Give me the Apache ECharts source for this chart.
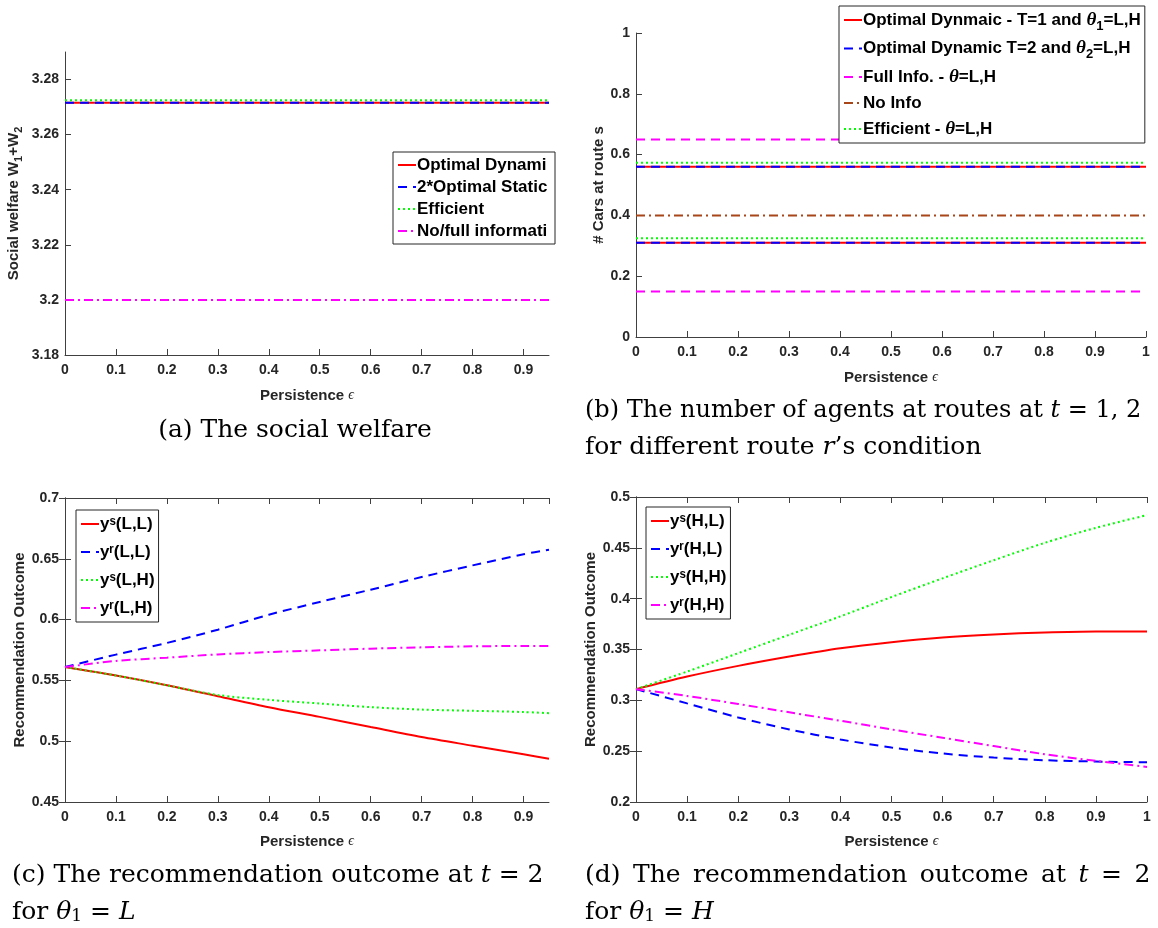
<!DOCTYPE html>
<html><head><meta charset="utf-8">
<script src="https://cdn.jsdelivr.net/npm/echarts@6/dist/echarts.min.js"></script>
<style>html,body{margin:0;padding:0;background:#fff}#c{width:1158px;height:928px}</style>
</head><body><div id="c"></div>
<script>
// ---------- data ----------
// (a) social welfare, constant over persistence
const epsA = [0, 0.95];
const welfareOptDyn = [3.2716, 3.2716];
const welfareOptStatic2 = [3.2716, 3.2716];
const welfareEfficient = [3.2725, 3.2725];
const welfareNoFull = [3.2, 3.2];
// (b) number of cars at route s (two levels each: L and H)
const epsB = [0, 1];
const carsOptT1L = [0.56, 0.56], carsOptT1H = [0.31, 0.31];
const carsOptT2L = [0.56, 0.56], carsOptT2H = [0.31, 0.31];
const carsFullL = [0.65, 0.65], carsFullH = [0.15, 0.15];
const carsNoInfo = [0.4, 0.4];
const carsEffL = [0.573, 0.573], carsEffH = [0.325, 0.325];
// (c) theta1 = L
const epsC = [0, 0.1, 0.2, 0.3, 0.4, 0.5, 0.6, 0.7, 0.8, 0.9, 0.95];
const ysLL = [0.561, 0.554, 0.546, 0.537, 0.528, 0.520, 0.5117, 0.5035, 0.4963, 0.4892, 0.4856];
const yrLL = [0.561, 0.5712, 0.5808, 0.5917, 0.604, 0.6145, 0.6246, 0.635, 0.6446, 0.6537, 0.6575];
const ysLH = [0.561, 0.554, 0.546, 0.538, 0.534, 0.531, 0.528, 0.526, 0.525, 0.524, 0.523];
const yrLH = [0.561, 0.566, 0.5687, 0.5714, 0.5733, 0.5747, 0.5761, 0.5772, 0.578, 0.5783, 0.5783];
// (d) theta1 = H
const epsD = [0, 0.1, 0.2, 0.3, 0.4, 0.5, 0.6, 0.7, 0.8, 0.9, 1.0];
const ysHL = [0.311, 0.3234, 0.3339, 0.3431, 0.3513, 0.3572, 0.3618, 0.3648, 0.3668, 0.3678, 0.3678];
const yrHL = [0.311, 0.297, 0.2832, 0.2714, 0.2615, 0.2536, 0.2477, 0.2437, 0.2411, 0.2398, 0.2391];
const ysHH = [0.311, 0.3283, 0.3464, 0.3645, 0.3826, 0.4016, 0.420, 0.4378, 0.4549, 0.4697, 0.4822];
const yrHH = [0.311, 0.3043, 0.2964, 0.2882, 0.2799, 0.2714, 0.2632, 0.255, 0.247, 0.2405, 0.2345];

// ---------- styles ----------
const TXT = '#262626', AX = '#404040';
const SANS = 'Liberation Sans, Arial, sans-serif';
const SERIF = 'DejaVu Serif, serif';
const RED = '#ff0000', BLUE = '#0000ff', GREEN = '#00ff00', MAG = '#ff00ff', BROWN = '#a8461a';
const solid = 'solid', dashed = [9, 6], dotted = [2, 3], dashdot = [9, 4, 2, 4];

const zip = (xs, ys) => xs.map((x, i) => [x, ys[i]]);
function line(name, x, y, color, type, gi, smooth) {
  return { name, type: 'line', xAxisIndex: gi, yAxisIndex: gi, data: zip(x, y),
    symbol: 'none', smooth: smooth ? 0.3 : false, animation: false,
    lineStyle: { color, width: 2, type }, itemStyle: { color } };
}
const epsName = 'Persistence {e|ϵ}';
const nameRich = {
  e: { fontFamily: 'Liberation Serif, serif', fontStyle: 'italic', fontSize: 14, color: TXT, fontWeight: 'normal' },
  sb: { fontFamily: SANS, fontWeight: 'bold', fontSize: 11, color: TXT, padding: [9, 0, 0, 0] }
};
const nameStyle = (extra) => Object.assign({ fontFamily: SANS, fontWeight: 'bold', fontSize: 15, color: TXT, rich: nameRich }, extra || {});
function xAx(gi, max, extra) {
  return Object.assign({ type: 'value', gridIndex: gi, min: 0, max, interval: 0.1,
    name: epsName, nameLocation: 'middle', nameGap: 33,
    nameTextStyle: nameStyle(),
    axisLine: { show: true, lineStyle: { color: AX, width: 1 } },
    axisTick: { show: true, inside: true, length: 6, lineStyle: { color: AX } },
    axisLabel: { fontFamily: SANS, fontWeight: 'bold', fontSize: 14, color: TXT, margin: 8, showMaxLabel: max === 1 },
    splitLine: { show: false } }, extra || {});
}
function yAx(gi, min, max, interval, name, gap, extra) {
  return Object.assign({ type: 'value', gridIndex: gi, min, max, interval,
    name, nameLocation: 'middle', nameGap: gap,
    nameTextStyle: nameStyle(),
    axisLine: { show: true, lineStyle: { color: AX, width: 1 } },
    axisTick: { show: true, inside: true, length: 6, lineStyle: { color: AX } },
    axisLabel: { fontFamily: SANS, fontWeight: 'bold', fontSize: 14, color: TXT, margin: 6 },
    splitLine: { show: false } }, extra || {});
}
function boxX(gi, max) {
  return { type: 'value', gridIndex: gi, position: 'top', min: 0, max, interval: 0.1,
    axisLine: { show: true, lineStyle: { color: AX } },
    axisTick: { show: true, inside: true, length: 6, lineStyle: { color: AX } },
    axisLabel: { show: false }, splitLine: { show: false } };
}
function boxY(gi, min, max, interval) {
  return { type: 'value', gridIndex: gi, position: 'right', min, max, interval,
    axisLine: { show: true, lineStyle: { color: AX } },
    axisTick: { show: true, inside: true, length: 6, lineStyle: { color: AX } },
    axisLabel: { show: false }, splitLine: { show: false } };
}
function legendBox(names, pos, fs, gap, lh, extraText) {
  return Object.assign({ orient: 'vertical', data: names,
    itemWidth: 18, itemHeight: 12, itemGap: gap,
    itemStyle: { opacity: 0 },
    backgroundColor: '#fff', borderColor: '#262626', borderWidth: 1, borderRadius: 0,
    padding: [4, 4, 4, 4], selectedMode: false,
    textStyle: Object.assign({ fontFamily: SANS, fontWeight: 'bold', fontSize: fs, color: '#000', lineHeight: lh, padding: [0, 0, 0, -4] }, extraText || {})
  }, pos);
}

const chart = echarts.init(document.getElementById('c'), null, { renderer: 'canvas' });
const thetaRich = {
  n: { fontFamily: SANS, fontWeight: 'bold', fontSize: 17, color: '#000' },
  th: { fontFamily: 'Liberation Serif, serif', fontStyle: 'italic', fontSize: 19, color: '#000' },
  sb: { fontFamily: SANS, fontWeight: 'bold', fontSize: 13, color: '#000', padding: [12, 0, 0, 0] }
};
const bNames = ['Optimal Dynmaic - T=1 and θ1=L,H', 'Optimal Dynamic T=2 and θ2=L,H', 'Full Info. - θ=L,H', 'No Info', 'Efficient - θ=L,H'];
function bFmt(name) {
  const m = name.match(/^(.*?)θ(\d?)(=L,H)$/);
  if (!m) return '{n|' + name + '}';
  return '{n|' + m[1] + '}{th|θ}' + (m[2] ? '{sb|' + m[2] + '}' : '') + '{n|' + m[3] + '}';
}

const option = {
  animation: false,
  backgroundColor: '#fff',
  grid: [
    { left: 65, top: 52, width: 484, height: 303 },
    { left: 636, top: 33, width: 510, height: 304 },
    { left: 65, top: 498, width: 484, height: 304 },
    { left: 636, top: 497, width: 511, height: 305 }
  ],
  xAxis: [xAx(0, 0.95), xAx(1, 1), xAx(2, 0.95, { nameGap: 32 }), xAx(3, 1, { nameGap: 32 }), boxX(2, 0.95), boxX(3, 1)],
  yAxis: [
    yAx(0, 3.18, 3.29, 0.02, 'Social welfare W{sb|1}+W{sb|2}', 41, {
      axisLabel: { fontFamily: SANS, fontWeight: 'bold', fontSize: 14, color: TXT, margin: 6, showMaxLabel: false } }),
    yAx(1, 0, 1, 0.2, '# Cars at route s', 25),
    yAx(2, 0.45, 0.7, 0.05, 'Recommendation Outcome', 33),
    yAx(3, 0.2, 0.5, 0.05, 'Recommendation Outcome', 32),
    boxY(2, 0.45, 0.7, 0.05), boxY(3, 0.2, 0.5, 0.05)
  ],
  legend: [
    legendBox(['Optimal Dynamic', '2*Optimal Static', 'Efficient', 'No/full information'],
      { left: 393, top: 152 }, 17, 4, 18, { width: 134, overflow: 'truncate', ellipsis: '' }),
    legendBox(bNames, { left: 839, top: 6, formatter: bFmt, padding: [4, 4, 4, 4] }, 17, 6, 20, { rich: thetaRich }),
    legendBox(['yˢ(L,L)', 'yʳ(L,L)', 'yˢ(L,H)', 'yʳ(L,H)'], { left: 76, top: 510 }, 17, 8, 20),
    legendBox(['yˢ(H,L)', 'yʳ(H,L)', 'yˢ(H,H)', 'yʳ(H,H)'], { left: 646, top: 507 }, 17, 8, 20)
  ],
  series: [
    line('Optimal Dynamic', epsA, welfareOptDyn, RED, solid, 0),
    line('2*Optimal Static', epsA, welfareOptStatic2, BLUE, dashed, 0),
    line('Efficient', epsA, welfareEfficient, GREEN, dotted, 0),
    line('No/full information', epsA, welfareNoFull, MAG, dashdot, 0),

    line(bNames[0], epsB, carsOptT1L, RED, solid, 1),
    line(bNames[0], epsB, carsOptT1H, RED, solid, 1),
    line(bNames[1], epsB, carsOptT2L, BLUE, dashed, 1),
    line(bNames[1], epsB, carsOptT2H, BLUE, dashed, 1),
    line(bNames[2], epsB, carsFullL, MAG, dashed, 1),
    line(bNames[2], epsB, carsFullH, MAG, dashed, 1),
    line(bNames[3], epsB, carsNoInfo, BROWN, dashdot, 1),
    line(bNames[4], epsB, carsEffL, GREEN, dotted, 1),
    line(bNames[4], epsB, carsEffH, GREEN, dotted, 1),

    line('yˢ(L,L)', epsC, ysLL, RED, solid, 2, true),
    line('yʳ(L,L)', epsC, yrLL, BLUE, dashed, 2, true),
    line('yˢ(L,H)', epsC, ysLH, GREEN, dotted, 2, true),
    line('yʳ(L,H)', epsC, yrLH, MAG, dashdot, 2, true),

    line('yˢ(H,L)', epsD, ysHL, RED, solid, 3, true),
    line('yʳ(H,L)', epsD, yrHL, BLUE, dashed, 3, true),
    line('yˢ(H,H)', epsD, ysHH, GREEN, dotted, 3, true),
    line('yʳ(H,H)', epsD, yrHH, MAG, dashdot, 3, true)
  ],
  graphic: (function () {
    function mk(fs) {
      return {
        base: { fontFamily: SERIF, fontSize: fs, fill: '#000' },
        rich: { i: { fontFamily: SERIF, fontStyle: 'italic', fontSize: fs, fill: '#000' },
                s: { fontFamily: SERIF, fontSize: Math.round(fs * 0.68), fill: '#000', padding: [10, 0, 0, 0] },
                g: { fontFamily: SERIF, fontSize: fs, fill: '#000', width: 12.5 } }
      };
    }
    function t(text, x, y, fs, align) {
      const m = mk(fs);
      return { type: 'text', x, y, silent: true,
        style: Object.assign({ text, textAlign: align || 'left', textVerticalAlign: 'middle', rich: m.rich }, m.base) };
    }
    return [
      t('(a) The social welfare', 295, 430, 25, 'center'),
      t('(b) The number of agents at routes at {i|t} = 1, 2', 585, 411, 24),
      t('for different route {i|r}’s condition', 585, 447, 25),
      t('(c) The recommendation outcome at {i|t} = 2', 12, 875, 25),
      t('for {i|θ}{s|1} = {i|L}', 12, 912, 25),
      t('(d){g| }The{g| }recommendation{g| }outcome{g| }at{g| }{i|t}{g| }={g| }2', 585, 875, 25),
      t('for {i|θ}{s|1} = {i|H}', 585, 912, 25)
    ];
  })()
};
chart.setOption(option);
</script></body></html>
